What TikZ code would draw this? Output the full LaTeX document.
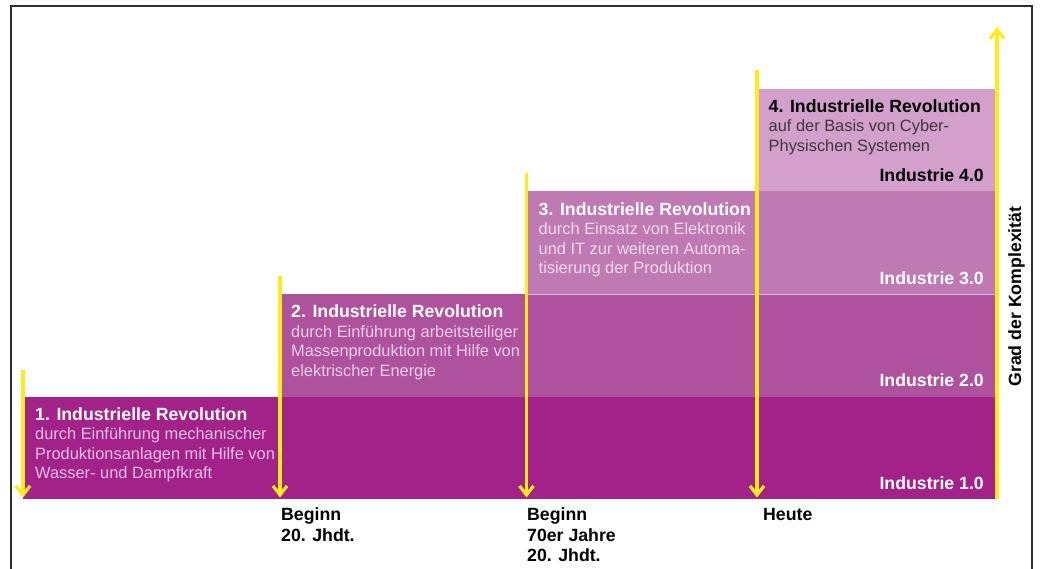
\documentclass[tikz,border=0pt]{standalone}
\usepackage{fontspec}
\setmainfont{Liberation Sans}
\usetikzlibrary{arrows.meta}

% palette
\definecolor{bandA}{HTML}{A2228A}
\definecolor{bandB}{HTML}{AE529E}
\definecolor{bandC}{HTML}{BF7AB4}
\definecolor{bandD}{HTML}{D2A0CB}
\definecolor{signal}{HTML}{FFEA1A}
\definecolor{framegray}{HTML}{2E2E2E}
\colorlet{inkA}{white!72!bandA}
\colorlet{inkB}{white!72!bandB}
\colorlet{inkC}{white!72!bandC}
\definecolor{inkD}{HTML}{3A3A3A}

% left-aligned stack of lines whose baseline is the first line's baseline
\newcommand\linestack[2][19.5pt]{\vtop{\baselineskip=#1\relax\lineskiplimit=-100pt\halign{##\hfil\cr#2\crcr}}}

\tikzset{
  band/.style={rectangle, inner sep=0pt, outer sep=0pt, anchor=south west, draw=none},
  head/.style={anchor=base west, inner sep=0pt, font=\fontsize{17.7}{19.5}\selectfont\bfseries, text=white},
  body/.style={anchor=base west, inner sep=0pt, font=\fontsize{16.4}{19.5}\selectfont},
  level/.style={anchor=base east, inner sep=0pt, font=\fontsize{17.7}{19.5}\selectfont\bfseries, text=white},
  foot/.style={anchor=base west, inner sep=0pt, font=\fontsize{17.7}{20.3}\selectfont\bfseries, text=black},
  timeline/.style={draw=signal, line width=3.2pt, -{Straight Barb[length=9pt,width=14pt]}},
}

\begin{document}
\begin{tikzpicture}[x=1pt, y=-1pt]
\useasboundingbox (0,0) rectangle (1040,569);

% outer frame, open at the bottom
\draw[framegray, line width=1.3pt] (11,569) -- (11,6) -- (1032,6) -- (1032,569);

% stepped bands, one per revolution
\node[band, fill=bandA, minimum width=974pt, minimum height=102pt]   (b1) at (23,498.5) {};
\node[band, fill=bandB, minimum width=717pt, minimum height=102.5pt] (b2) at (280,396.5) {};
\node[band, fill=bandC, minimum width=470.5pt, minimum height=102.5pt] (b3) at (526.5,294) {};
\node[band, fill=bandD, minimum width=240pt, minimum height=102.5pt] (b4) at (757,191.5) {};
\draw[white, opacity=0.6, line width=0.8pt] (b3.south west) -- (b3.south east);

% revolution texts
\node[head] (h1) at (35,420) {1. Industrielle Revolution};
\node[body, text=inkA] (d1) at (35,439.5) {\linestack{durch Einführung mechanischer\cr Produktionsanlagen mit Hilfe von\cr Wasser- und Dampfkraft}};

\node[head] (h2) at (291,317.5) {2. Industrielle Revolution};
\node[body, text=inkB] (d2) at (291,337) {\linestack{durch Einführung arbeitsteiliger\cr Massenproduktion mit Hilfe von\cr elektrischer Energie}};

\node[head] (h3) at (538.5,215) {3. Industrielle Revolution};
\node[body, text=inkC] (d3) at (538.5,234.5) {\linestack{durch Einsatz von Elektronik\cr und IT zur weiteren Automa-\cr tisierung der Produktion}};

\node[head, text=black] (h4) at (768.5,112.3) {4. Industrielle Revolution};
\node[body, text=inkD] (d4) at (768.5,132) {\linestack{auf der Basis von Cyber-\cr Physischen Systemen}};

% level labels
\node[level] (l1) at (984,489) {Industrie 1.0};
\node[level] (l2) at (984,386.5) {Industrie 2.0};
\node[level] (l3) at (984,284) {Industrie 3.0};
\node[level, text=black] (l4) at (984,181.5) {Industrie 4.0};

% time markers
\coordinate (t1) at (23,369.5);   \coordinate (e1) at (23,497.5);
\coordinate (t2) at (280,276);    \coordinate (e2) at (280,497.5);
\coordinate (t3) at (526.5,173.5);\coordinate (e3) at (526.5,497.5);
\coordinate (t4) at (757,70);     \coordinate (e4) at (757,497.5);
\draw[timeline] (t1) -- (e1);
\draw[timeline] (t2) -- (e2);
\draw[timeline] (t3) -- (e3);
\draw[timeline] (t4) -- (e4);

% complexity axis
\coordinate (ax0) at (997,498.5);
\coordinate (ax1) at (997,27);
\draw[timeline] (ax0) -- (ax1);
\node[rotate=90, anchor=base, inner sep=0pt, font=\fontsize{17.7}{19.5}\selectfont\bfseries, text=black] (axlabel) at (1021,296.5) {Grad der Komplexität};

% dates below the timeline
\node[foot] (f2) at (281,520.7) {\linestack[20.3pt]{Beginn\cr 20. Jhdt.}};
\node[foot] (f3) at (527,520.7) {\linestack[20.3pt]{Beginn\cr 70er Jahre\cr 20. Jhdt.}};
\node[foot] (f4) at (763,520.3) {Heute};
\end{tikzpicture}
\end{document}
